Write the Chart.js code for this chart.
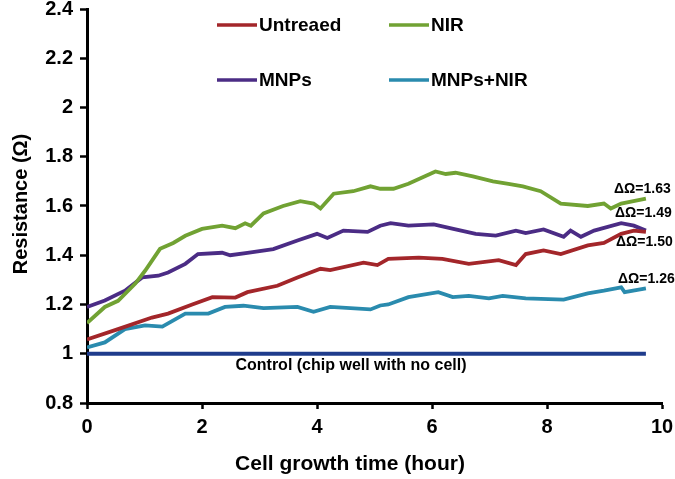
<!DOCTYPE html>
<html>
<head>
<meta charset="utf-8">
<script src="https://cdn.jsdelivr.net/npm/chart.js@4.4.1/dist/chart.umd.min.js"></script>
<style>
body{margin:0;background:#fff;}
canvas{display:block;}
</style>
</head>
<body>
<canvas id="chart" width="675" height="479"></canvas>
<script>
// data (time in hours, resistance in ohm)
const seriesNames = ['Untreaed','NIR','MNPs','MNPs+NIR'];

const untreatedT = [0,0.54,1.13,1.41,1.83,2.18,2.58,2.79,3.31,3.66,4.06,4.23,4.81,5.05,5.24,5.77,6.18,6.64,7.16,7.46,7.63,7.94,8.24,8.71,8.99,9.29,9.51,9.72];
const untreatedV = [1.058,1.10,1.147,1.163,1.20,1.23,1.228,1.25,1.276,1.31,1.345,1.34,1.37,1.36,1.385,1.39,1.385,1.365,1.38,1.36,1.405,1.42,1.405,1.44,1.45,1.487,1.50,1.495];

const nirT = [0,0.31,0.54,0.84,1.01,1.27,1.5,1.71,2.0,2.35,2.58,2.75,2.85,3.07,3.41,3.71,3.94,4.06,4.29,4.63,4.93,5.1,5.33,5.59,6.06,6.24,6.41,6.71,7.06,7.33,7.58,7.89,8.24,8.71,8.99,9.11,9.29,9.72];
const nirV = [1.125,1.19,1.215,1.285,1.337,1.426,1.45,1.479,1.507,1.52,1.51,1.53,1.52,1.57,1.60,1.62,1.61,1.59,1.65,1.66,1.68,1.67,1.67,1.69,1.74,1.73,1.735,1.72,1.70,1.69,1.68,1.66,1.61,1.60,1.61,1.59,1.61,1.63];

const mnpT = [0,0.31,0.66,0.96,1.24,1.41,1.71,1.93,2.35,2.49,2.79,3.24,3.66,4.0,4.18,4.46,4.88,5.1,5.28,5.59,6.03,6.41,6.76,7.11,7.46,7.63,7.94,8.29,8.41,8.59,8.82,9.29,9.51,9.72];
const mnpV = [1.19,1.216,1.256,1.31,1.317,1.33,1.365,1.405,1.41,1.40,1.41,1.425,1.46,1.487,1.47,1.50,1.495,1.52,1.53,1.52,1.525,1.505,1.487,1.48,1.50,1.49,1.505,1.475,1.50,1.475,1.50,1.53,1.52,1.50];

const mnpNirT = [0,0.31,0.66,1.01,1.31,1.71,2.11,2.4,2.72,3.07,3.66,3.94,4.23,4.93,5.1,5.24,5.59,6.11,6.36,6.64,6.99,7.23,7.63,8.29,8.71,8.99,9.29,9.35,9.72];
const mnpNirV = [1.026,1.046,1.10,1.115,1.11,1.163,1.163,1.19,1.195,1.185,1.19,1.17,1.19,1.18,1.196,1.20,1.23,1.25,1.23,1.235,1.225,1.235,1.225,1.22,1.245,1.256,1.27,1.25,1.265];

const controlT = [0,9.72];
const controlV = [1,1];

const yTicks = ['0.8','1','1.2','1.4','1.6','1.8','2','2.2','2.4'];
const xTicks = ['0','2','4','6','8','10'];
const deltaLabels = ['\u0394\u03A9=1.63','\u0394\u03A9=1.49','\u0394\u03A9=1.50','\u0394\u03A9=1.26'];
const controlLabel = 'Control (chip well with no cell)';

const colors = ['#A3262A','#71A233','#4B2C85','#2A8BAE'];
const controlColor = '#1F3C8C';

function pts(t,v){
  return t.map((x,i)=>({x:x,y:v[i]}));
}

const FONT = '"Liberation Sans", Arial, sans-serif';

// legend, axis titles and text labels
const textPlugin = {
  id:'texts',
  afterDatasetsDraw(chart){
    const ctx = chart.ctx;
    ctx.save();
    // legend, 2 x 2
    const legendPos = [[217,25],[389,25],[217,80],[389,80]];
    ctx.font = 'bold 19px '+FONT;
    ctx.textBaseline = 'middle';
    ctx.textAlign = 'left';
    for(let i=0;i<seriesNames.length;i++){
      const p = legendPos[i];
      ctx.strokeStyle = colors[i];
      ctx.lineWidth = 3.5;
      ctx.beginPath();
      ctx.moveTo(p[0],p[1]);
      ctx.lineTo(p[0]+40,p[1]);
      ctx.stroke();
      ctx.fillStyle = '#000';
      ctx.fillText(seriesNames[i],p[0]+42,p[1]+1);
    }
    // delta labels
    ctx.font = 'bold 14px '+FONT;
    ctx.textAlign = 'left';
    const dPos = [[614,189],[615,213],[616,242],[618,279]];
    for(let i=0;i<deltaLabels.length;i++){
      ctx.fillText(deltaLabels[i],dPos[i][0],dPos[i][1]);
    }
    // control label
    ctx.font = 'bold 16px '+FONT;
    ctx.textAlign = 'center';
    ctx.fillText(controlLabel,351,366);
    // axis titles
    ctx.font = 'bold 21px '+FONT;
    ctx.fillText('Cell growth time (hour)',350,464);
    ctx.translate(21,204);
    ctx.rotate(-Math.PI/2);
    ctx.font = 'bold 20px '+FONT;
    ctx.fillText('Resistance (\u03A9)',0,0);
    ctx.restore();
  }
};

const datasets = [
  {data:pts(untreatedT,untreatedV),borderColor:colors[0]},
  {data:pts(nirT,nirV),borderColor:colors[1]},
  {data:pts(mnpT,mnpV),borderColor:colors[2]},
  {data:pts(mnpNirT,mnpNirV),borderColor:colors[3]},
  {data:pts(controlT,controlV),borderColor:controlColor}
].map((d,i)=>Object.assign(d,{
  label: i<4 ? seriesNames[i] : 'Control',
  borderWidth:3.8,
  pointRadius:0,
  tension:0,
  fill:false
}));

new Chart(document.getElementById('chart'),{
  type:'line',
  data:{datasets:datasets},
  options:{
    responsive:false,
    animation:false,
    layout:{padding:{top:9,right:13,left:0,bottom:0}},
    plugins:{legend:{display:false},tooltip:{enabled:false}},
    scales:{
      x:{
        type:'linear',
        min:0,max:10,
        afterFit(s){ s.height = 76; s.paddingRight = 0; s.paddingLeft = 0; },
        ticks:{
          stepSize:2,
          padding:6,
          color:'#000',
          font:{family:FONT,size:20,weight:'bold'},
          callback:(v)=>xTicks[v/2]
        },
        grid:{drawOnChartArea:false,tickLength:6,tickWidth:2.5,tickColor:'#000'},
        border:{color:'#000',width:3}
      },
      y:{
        min:0.8,max:2.4,
        afterFit(s){ s.width = 87; s.paddingTop = 0; s.paddingBottom = 0; },
        ticks:{
          stepSize:0.2,
          padding:7,
          color:'#000',
          font:{family:FONT,size:20,weight:'bold'},
          callback:(v)=>yTicks[Math.round((v-0.8)/0.2)]
        },
        grid:{drawOnChartArea:false,tickLength:7,tickWidth:2.5,tickColor:'#000'},
        border:{color:'#000',width:3}
      }
    }
  },
  plugins:[textPlugin]
});
</script>
</body>
</html>
